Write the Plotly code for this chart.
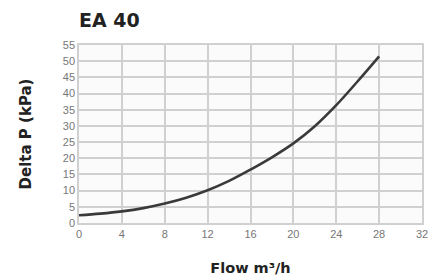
import plotly.graph_objects as go

flow = [0, 2, 4, 6, 8, 10, 12, 14, 16, 18, 20, 22, 24, 26, 28]
delta_p = [2.4, 2.9, 3.6, 4.6, 6.0, 7.8, 10.1, 13.0, 16.5, 20.3, 24.6, 29.9, 36.4, 43.8, 51.5]

x_ticks = [0, 4, 8, 12, 16, 20, 24, 28, 32]
y_ticks = [0, 5, 10, 15, 20, 25, 30, 35, 40, 45, 50, 55]

fig = go.Figure()
fig.add_trace(go.Scatter(x=flow, y=delta_p, mode="lines",
                         line=dict(color="#3a3a3a", width=2.6, shape="spline", smoothing=1.0),
                         showlegend=False, hoverinfo="skip"))

axis_common = dict(showgrid=True, gridcolor="#d0d0d0", gridwidth=1.5, zeroline=False,
                   showline=True, linecolor="#d0d0d0", linewidth=1.5, mirror=True,
                   tickfont=dict(family="Liberation Sans, Arial, sans-serif", size=11, color="#777777"),
                   ticks="", automargin=False)

title_font = "DejaVu Sans, Liberation Sans, sans-serif"

fig.update_layout(
    width=445, height=280,
    margin=dict(l=71, r=31, t=37, b=65),
    paper_bgcolor="white", plot_bgcolor="#fbfbfb",
    title=dict(text="<b>EA 40</b>", x=71/445, xref="container", xanchor="left",
               y=1-12/280, yref="container", yanchor="middle", pad=dict(l=0, r=0, t=0, b=0),
               font=dict(family=title_font, size=19, color="#222222")),
    xaxis=dict(range=[0, 32], tickvals=x_ticks, ticktext=[str(v) for v in x_ticks],
               title=dict(text="<b>Flow m³/h</b>", standoff=24,
                          font=dict(family=title_font, size=14.5, color="#222222")),
               **axis_common),
    yaxis=dict(range=[0, 55], tickvals=y_ticks, ticktext=[str(v) for v in y_ticks],
               title=dict(text="<b>Delta P (kPa)</b>", standoff=28,
                          font=dict(family=title_font, size=15, color="#222222")),
               **axis_common),
)

fig.write_html("out.html")
